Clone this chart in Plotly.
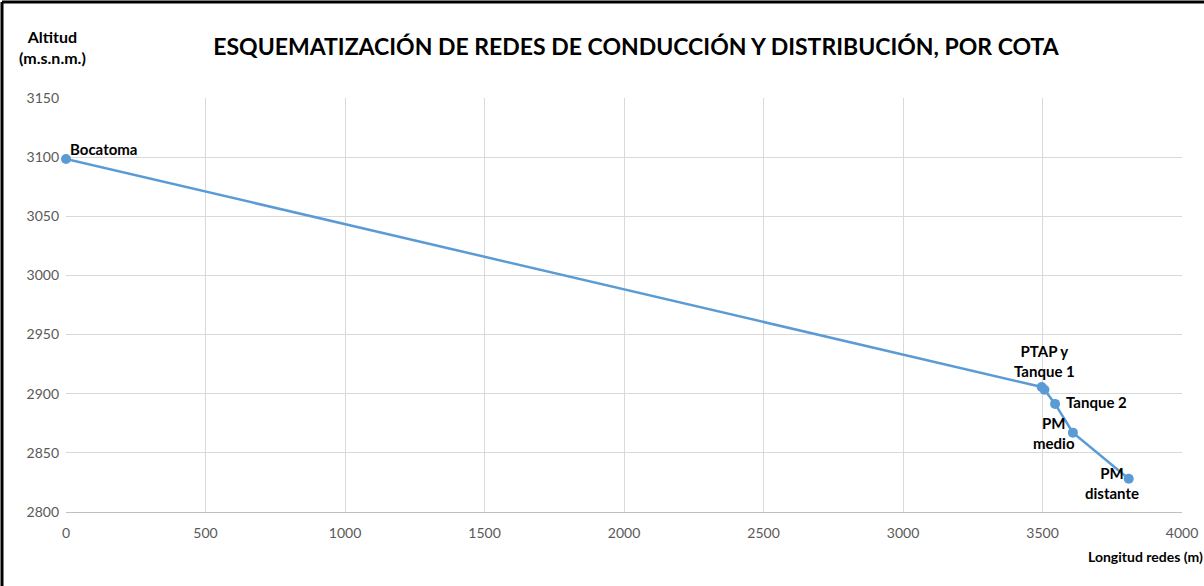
import plotly.graph_objects as go

# Data
names = ["Bocatoma", "PTAP y<br>Tanque 1", "", "Tanque 2", "PM<br>medio", "PM<br>distante"]
longitud = [0, 3497, 3507, 3545, 3609, 3809]
altitud = [3098.5, 2905.7, 2903.4, 2891.4, 2867.1, 2828.1]

W, H = 1204, 586
ml, mr, mt, mb = 66, 22, 98, 74

FONT = "Lato, Open Sans, sans-serif"

fig = go.Figure()
fig.add_trace(go.Scatter(
    x=longitud, y=altitud, mode="lines+markers",
    line=dict(color="#5b9bd5", width=2.5),
    marker=dict(color="#5b9bd5", size=10),
    cliponaxis=False,
    hoverinfo="x+y", showlegend=False,
))
# label placement (pixel offsets from the point)
shifts = [("left", 2, 10), ("center", 3, 26), None, ("left", 9, 2),
          ("center", -19, 0), ("center", -17, -4)]
for xv, yv, t, s in zip(longitud, altitud, names, shifts):
    if not t:
        continue
    xa, xs, ys = s
    fig.add_annotation(x=xv, y=yv, text="<b>" + t + "</b>", showarrow=False,
                       xanchor=xa, yanchor="middle", xshift=xs, yshift=ys,
                       font=dict(family=FONT, size=15, color="#000"),
                       align="center")

fig.update_layout(
    width=W, height=H,
    margin=dict(l=ml, r=mr, t=mt, b=mb, autoexpand=False),
    paper_bgcolor="white", plot_bgcolor="white",
    font=dict(family=FONT, color="#595959", size=14),
    xaxis=dict(range=[0, 4000], dtick=500, tick0=0, showgrid=True, gridcolor="#d9d9d9",
               zeroline=False, showline=True, linecolor="#bfbfbf", ticks="",
               automargin=False, ticklabeloverflow="allow",
               ticklabelstandoff=8, tickfont=dict(size=14, color="#595959")),
    yaxis=dict(range=[2800, 3150], dtick=50, tick0=2800, showgrid=True, gridcolor="#d9d9d9",
               zeroline=False, showline=False, ticks="", ticklabelstandoff=6,
               automargin=False,
               tickfont=dict(size=14, color="#595959")),
    title=dict(text="<b>ESQUEMATIZACIÓN DE REDES DE CONDUCCIÓN Y DISTRIBUCIÓN, POR COTA</b>",
               x=636 / W, xanchor="center", y=1 - 47 / H, yanchor="middle",
               font=dict(family=FONT, size=23, color="#000")),
)

pw = W - ml - mr
ph = H - mt - mb
def px(x):
    return (x - ml) / pw
def py(y):
    return (H - mb - y) / ph

fig.add_annotation(xref="paper", yref="paper", x=px(52), y=py(47),
                   text="<b>Altitud<br>(m.s.n.m.)</b>", showarrow=False,
                   xanchor="center", yanchor="middle", align="center",
                   font=dict(family=FONT, size=16, color="#000"))
fig.add_annotation(xref="paper", yref="paper", x=px(1086), y=py(556),
                   text="<b>Longitud redes (m)</b>", showarrow=False,
                   xanchor="left", yanchor="middle",
                   font=dict(family=FONT, size=14, color="#000"))
# outer border (left and top)
fig.add_shape(type="line", xref="paper", yref="paper", x0=px(2), x1=px(2), y0=py(2), y1=py(H + 5),
              line=dict(color="black", width=3))
fig.add_shape(type="line", xref="paper", yref="paper", x0=px(2), x1=px(W + 5), y0=py(2), y1=py(2),
              line=dict(color="black", width=3))

fig.write_html("out.html", config={"displayModeBar": False},
               post_script="document.body.style.margin='0';document.body.style.overflow='hidden';")
